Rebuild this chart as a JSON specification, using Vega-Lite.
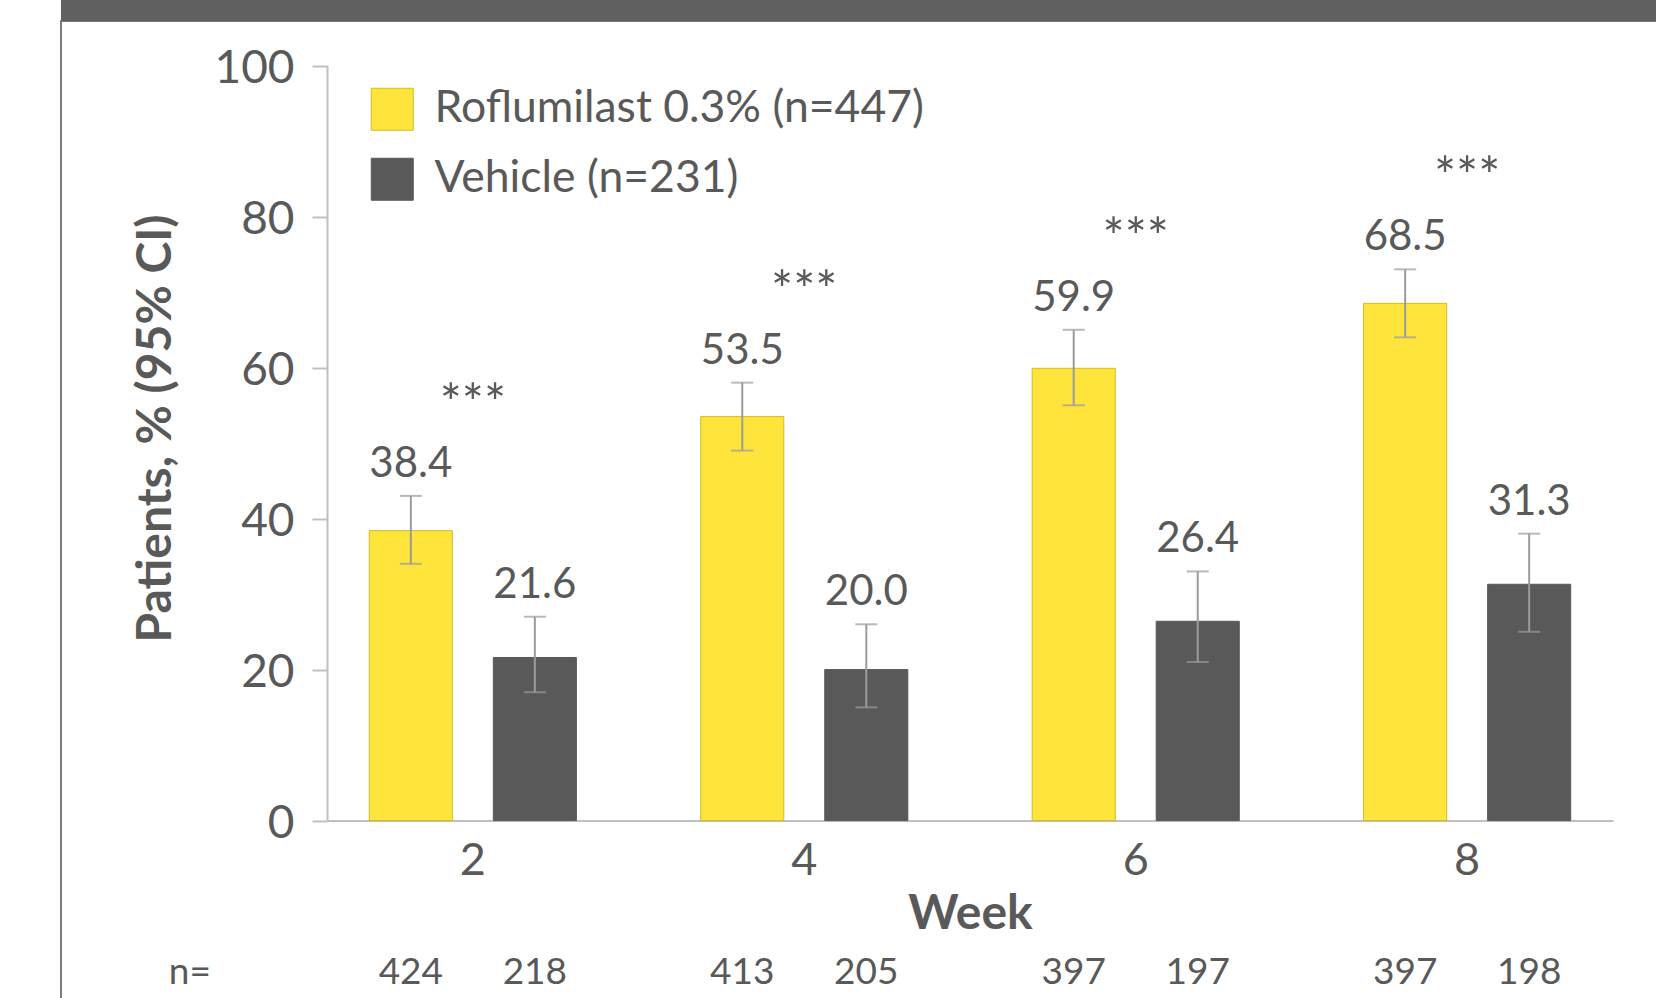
{
  "$schema": "https://vega.github.io/schema/vega-lite/v6.json",
  "autosize": {"type": "none"},
  "padding": {"left": 61, "top": 21, "right": -1, "bottom": -1},
  "width": 1596,
  "height": 978,
  "background": "white",
  "config": {
    "font": "Lato",
    "view": {"stroke": "#7a7a7a", "strokeWidth": 2}
  },
  "datasets": {
    "results": [
      {"week": "2", "group": "Roflumilast 0.3% (n=447)", "value": 38.4, "lo": 34, "hi": 43, "n": 424, "sig": "***"},
      {"week": "2", "group": "Vehicle (n=231)", "value": 21.6, "lo": 17, "hi": 27, "n": 218, "sig": ""},
      {"week": "4", "group": "Roflumilast 0.3% (n=447)", "value": 53.5, "lo": 49, "hi": 58, "n": 413, "sig": "***"},
      {"week": "4", "group": "Vehicle (n=231)", "value": 20.0, "lo": 15, "hi": 26, "n": 205, "sig": ""},
      {"week": "6", "group": "Roflumilast 0.3% (n=447)", "value": 59.9, "lo": 55, "hi": 65, "n": 397, "sig": "***"},
      {"week": "6", "group": "Vehicle (n=231)", "value": 26.4, "lo": 21, "hi": 33, "n": 197, "sig": ""},
      {"week": "8", "group": "Roflumilast 0.3% (n=447)", "value": 68.5, "lo": 64, "hi": 73, "n": 397, "sig": "***"},
      {"week": "8", "group": "Vehicle (n=231)", "value": 31.3, "lo": 25, "hi": 38, "n": 198, "sig": ""}
    ],
    "nlabel": [{"week": "2", "label": "n="}]
  },
  "data": {"name": "results"},
  "layer": [
    {
      "data": {"values": [{"frame": "top"}]},
      "mark": {"type": "rect", "color": "#616161"},
      "encoding": {
        "y": {"datum": 108.67, "type": "quantitative", "axis": null},
        "y2": {"datum": 105.89}
      }
    },
    {
      "mark": {"type": "bar", "strokeWidth": 1},
      "encoding": {
        "x": {
          "field": "week", "type": "nominal",
          "scale": {"range": [266, 1552], "paddingInner": 0.2, "paddingOuter": 0.04},
          "axis": {
            "title": "Week", "labelAngle": 0, "offset": -178.4,
            "ticks": false, "tickSize": 0,
            "domainColor": "#C0C0C0", "domainWidth": 2,
            "labelFont": "Lato", "labelFontSize": 45, "labelPadding": 18, "labelColor": "#595959",
            "titleFont": "Lato", "titleFontSize": 48, "titleFontWeight": "bold", "titleColor": "#595959",
            "titleY": 94, "titleBaseline": "middle"
          }
        },
        "xOffset": {
          "field": "group", "type": "nominal",
          "scale": {"domain": ["Roflumilast 0.3% (n=447)", "Vehicle (n=231)"], "paddingInner": 0.33, "paddingOuter": 0.234}
        },
        "y": {
          "field": "value", "type": "quantitative",
          "scale": {"domain": [0, 100], "range": [799.6, 44.5], "nice": false},
          "axis": {
            "title": "Patients, % (95% CI)", "values": [0, 20, 40, 60, 80, 100],
            "offset": -266, "grid": false,
            "domainColor": "#C0C0C0", "domainWidth": 2,
            "tickColor": "#C0C0C0", "tickWidth": 2, "tickSize": 15,
            "labelFont": "Lato", "labelFontSize": 46, "labelColor": "#595959", "labelPadding": 18, "labelOffset": 3,
            "titleFont": "Lato", "titleFontSize": 48, "titleFontWeight": "bold", "titleColor": "#595959",
            "titleX": -171, "titleY": 407, "titleAngle": -90, "titleAlign": "center", "titleBaseline": "middle"
          }
        },
        "fill": {
          "field": "group", "type": "nominal",
          "scale": {"domain": ["Roflumilast 0.3% (n=447)", "Vehicle (n=231)"], "range": ["#FFE43B", "#595959"]},
          "legend": {
            "orient": "none", "legendX": 309, "legendY": 66, "title": null, "padding": 0,
            "symbolType": "square", "symbolSize": 1764, "symbolStrokeWidth": 1,
            "labelFont": "Lato", "labelFontSize": 44.5, "labelColor": "#595959", "labelOffset": 20,
            "rowPadding": 23, "labelLimit": 800
          }
        },
        "stroke": {
          "field": "group", "type": "nominal",
          "scale": {"domain": ["Roflumilast 0.3% (n=447)", "Vehicle (n=231)"], "range": ["#D1BC24", "#595959"]},
          "legend": {
            "orient": "none", "legendX": 309, "legendY": 66, "title": null, "padding": 0,
            "symbolType": "square", "symbolSize": 1764, "symbolStrokeWidth": 1,
            "labelFont": "Lato", "labelFontSize": 44.5, "labelColor": "#595959", "labelOffset": 20,
            "rowPadding": 23, "labelLimit": 800
          }
        }
      }
    },
    {
      "mark": {"type": "rule", "color": "#9B9B9B", "strokeWidth": 2},
      "encoding": {
        "x": {"field": "week", "type": "nominal"},
        "xOffset": {"field": "group", "type": "nominal"},
        "y": {"field": "lo", "type": "quantitative", "axis": null},
        "y2": {"field": "hi"}
      }
    },
    {
      "mark": {"type": "tick", "color": "#9B9B9B", "size": 22, "thickness": 2, "orient": "horizontal"},
      "encoding": {
        "x": {"field": "week", "type": "nominal"},
        "xOffset": {"field": "group", "type": "nominal"},
        "y": {"field": "lo", "type": "quantitative", "axis": null}
      }
    },
    {
      "mark": {"type": "tick", "color": "#9B9B9B", "size": 22, "thickness": 2, "orient": "horizontal"},
      "encoding": {
        "x": {"field": "week", "type": "nominal"},
        "xOffset": {"field": "group", "type": "nominal"},
        "y": {"field": "hi", "type": "quantitative", "axis": null}
      }
    },
    {
      "mark": {"type": "text", "font": "Lato", "fontSize": 42, "color": "#595959", "baseline": "alphabetic", "dy": -19},
      "encoding": {
        "x": {"field": "week", "type": "nominal"},
        "xOffset": {"field": "group", "type": "nominal"},
        "y": {"field": "hi", "type": "quantitative", "axis": null},
        "text": {"field": "value", "type": "quantitative", "format": ".1f"}
      }
    },
    {
      "transform": [{"filter": "datum.sig != ''"}],
      "mark": {"type": "text", "font": "Lato", "fontSize": 52, "color": "#595959", "baseline": "alphabetic", "dy": -74},
      "encoding": {
        "x": {"field": "week", "type": "nominal"},
        "y": {"field": "hi", "type": "quantitative", "axis": null},
        "text": {"field": "sig", "type": "nominal"}
      }
    },
    {
      "mark": {"type": "text", "font": "Lato", "fontSize": 37, "color": "#595959", "baseline": "middle", "dy": 152},
      "encoding": {
        "x": {"field": "week", "type": "nominal"},
        "xOffset": {"field": "group", "type": "nominal"},
        "y": {"datum": 0, "type": "quantitative", "axis": null},
        "text": {"field": "n", "type": "quantitative"}
      }
    },
    {
      "data": {"name": "nlabel"},
      "mark": {"type": "text", "font": "Lato", "fontSize": 37, "color": "#595959", "baseline": "middle", "dy": 152, "dx": -283},
      "encoding": {
        "x": {"field": "week", "type": "nominal"},
        "y": {"datum": 0, "type": "quantitative", "axis": null},
        "text": {"field": "label", "type": "nominal"}
      }
    }
  ],
  "resolve": {"axis": {"y": "independent"}}
}
